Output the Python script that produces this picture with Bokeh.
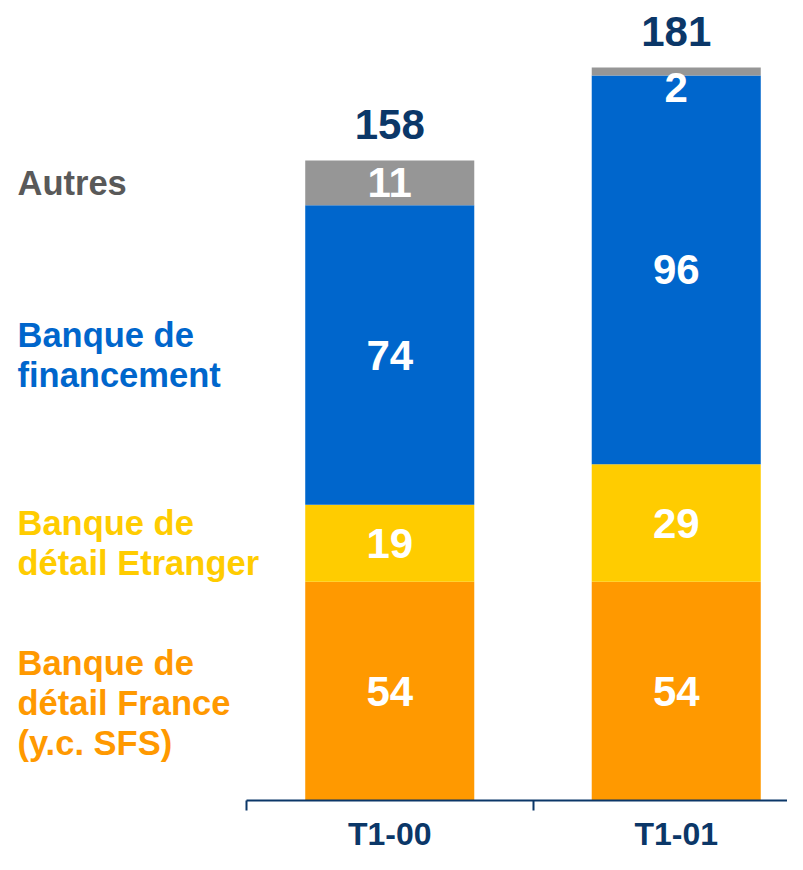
import numpy as np
from bokeh.plotting import figure
from bokeh.models import Range1d, LinearAxis, FixedTicker, ColumnDataSource
from bokeh.core.properties import value
from bokeh.embed import file_html
from bokeh.resources import INLINE

# ---- data ----
categories = ["T1-00", "T1-01"]
series_keys = ["france", "etranger", "financement", "autres"]
series_names = [
    "Banque de\ndétail France\n(y.c. SFS)",
    "Banque de\ndétail Etranger",
    "Banque de\nfinancement",
    "Autres",
]
france = [54, 54]
etranger = [19, 29]
financement = [74, 96]
autres = [11, 2]

# ---- style ----
bar_colors = ["#FF9900", "#FFCC00", "#0066CC", "#969696"]
name_colors = ["#FF9900", "#FFCC00", "#0066CC", "#595959"]
NAVY = "#0B3768"
FONT_NAME = "Liberation Sans"
FONT = value(FONT_NAME)
PX_PER_UNIT = 4.05       # vertical scale
PX_PER_CAT = 286.5       # horizontal scale
W, H = 787, 854
AXIS_Y = 800             # pixel row of the value 0
LEFT_EDGE = 246          # pixel column of the first category boundary
name_offsets = [12, 0, 0, 0]

series = [france, etranger, financement, autres]
x = [i + 0.5 for i in range(len(categories))]

p = figure(
    width=W, height=H,
    x_range=Range1d(-LEFT_EDGE / PX_PER_CAT, (W - LEFT_EDGE) / PX_PER_CAT),
    y_range=Range1d(0, AXIS_Y / PX_PER_UNIT),
    x_axis_location=None, y_axis_location=None,
    toolbar_location=None, output_backend="svg",
    min_border_left=0, min_border_right=0, min_border_top=0,
    min_border_bottom=H - AXIS_Y,
    background_fill_color="white", border_fill_color="white",
)
p.outline_line_color = None
p.grid.visible = False

data = dict(x=x)
for k, s in zip(series_keys, series):
    data[k] = s
src = ColumnDataSource(data)
p.vbar_stack(series_keys, x="x", width=0.59, color=bar_colors, source=src, line_color=None)

# segment labels
arr = np.array(series, dtype=float)
tops = np.cumsum(arr, axis=0)
bottoms = tops - arr
lx, ly, lt, loff = [], [], [], []
for si in range(arr.shape[0]):
    for ci in range(arr.shape[1]):
        lx.append(x[ci])
        ly.append((tops[si, ci] + bottoms[si, ci]) / 2)
        lt.append(str(int(arr[si, ci])))
        loff.append(16 if arr[si, ci] < 5 else 0)
p.text(x=lx, y=ly, text=lt, y_offset=loff, text_align="center", text_baseline="middle",
       text_color="white", text_font=FONT, text_font_style="bold", text_font_size="42px")

# totals
totals = tops[-1]
p.text(x=x, y=list(totals), text=[str(int(t)) for t in totals], y_offset=-36,
       text_align="center", text_baseline="middle", text_color=NAVY,
       text_font=FONT, text_font_style="bold", text_font_size="42px")

# series names (left), aligned with first bar's segments
name_y = [(tops[si, 0] + bottoms[si, 0]) / 2 for si in range(arr.shape[0])]
name_x = (17 - LEFT_EDGE) / PX_PER_CAT
p.text(x=[name_x] * len(series_names), y=name_y, text=series_names, y_offset=name_offsets,
       text_align="left", text_baseline="middle", text_color=name_colors,
       text_font=FONT, text_font_style="bold", text_font_size="34.5px", text_line_height=1.05)

# x axis with category labels
ax = LinearAxis(
    ticker=FixedTicker(ticks=x, minor_ticks=list(range(len(categories) + 1))),
    bounds=(0, len(categories)),
    major_label_overrides={xi: c for xi, c in zip(x, categories)},
    axis_line_color=NAVY, axis_line_width=2,
    major_tick_out=0, major_tick_in=0, major_tick_line_color=None,
    minor_tick_out=10, minor_tick_in=0, minor_tick_line_color=NAVY, minor_tick_line_width=2,
    major_label_standoff=5,
    major_label_text_font=FONT_NAME, major_label_text_font_style="bold",
    major_label_text_font_size="32px", major_label_text_color=NAVY,
)
p.add_layout(ax, "below")

open("out.html", "w").write(file_html(p, INLINE))
